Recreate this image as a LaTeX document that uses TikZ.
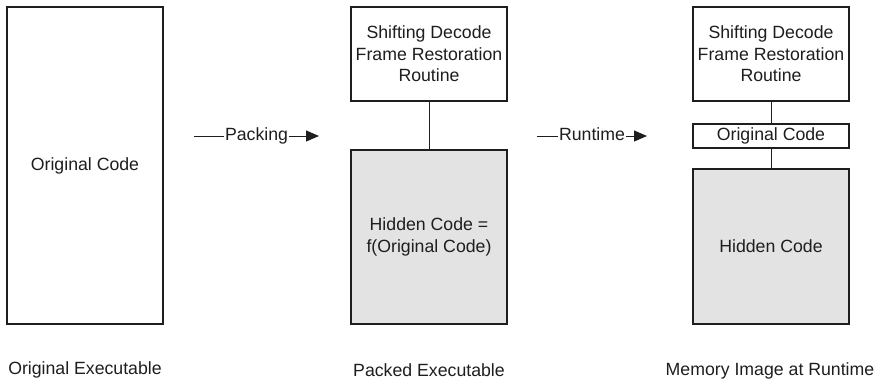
\documentclass[tikz,border=0pt]{standalone}
\usepackage{fontspec}
\setmainfont{Liberation Sans}
\usepackage{xcolor}
\usepackage{tikz}
\usetikzlibrary{shapes, arrows.meta, positioning}

\definecolor{hiddengray}{RGB}{227,227,227}
\definecolor{inkgray}{RGB}{30,30,30}

\begin{document}
\begin{tikzpicture}
  [
    x=1pt, y=-1pt,
    every node/.style={font=\fontsize{17.7pt}{21.5pt}\selectfont, text=inkgray},
    Plain/.style={rectangle, draw=inkgray, fill=white, line width=1.1pt, minimum width=156pt, align=center, inner sep=0pt},
    Hidden/.style={rectangle, draw=inkgray, fill=hiddengray, line width=1.1pt, minimum width=156pt, align=center, inner sep=0pt},
    Caption/.style={inner sep=0pt, anchor=mid},
    Word/.style={inner sep=1pt, text height=9.2pt, text depth=0pt}
  ]
  \useasboundingbox (0,0) rectangle (883,386);

  % Nodes
  \node[Plain, minimum height=317pt] (orig) at(85, 165.5) {Original Code};

  \node[Plain, minimum height=94pt] (stub1) at(429, 54) {Shifting Decode\\Frame Restoration\\Routine};
  \node[Hidden, minimum height=174pt] (hide1) at(429, 237) {Hidden Code =\\f(Original Code)};

  \node[Plain, minimum height=94pt] (stub2) at(771, 54) {Shifting Decode\\Frame Restoration\\Routine};
  \node[Plain, minimum height=24pt] (code2) at(771, 136) {Original Code};
  \node[Hidden, minimum height=155pt] (hide2) at(771, 246.5) {Hidden Code};

  \node[Caption] (cap1) at(85, 372) {Original Executable};
  \node[Caption] (cap2) at(429, 374) {Packed Executable};
  \node[Caption] (cap3) at(770, 373) {Memory Image at Runtime};

  \node[Word] (pack) at(256.5, 136) {Packing};
  \node[Word] (run) at(592, 136) {Runtime};
  \coordinate (packin) at(194, 136);
  \coordinate (packout) at(319, 136);
  \coordinate (runin) at(537, 136);
  \coordinate (runout) at(647, 136);

  % Lines
  \path [draw=inkgray, line width=1pt] (stub1) -- (hide1);
  \path [draw=inkgray, line width=1pt] (stub2) -- (code2);
  \path [draw=inkgray, line width=1pt] (code2) -- (hide2);

  \path [draw=inkgray, line width=1pt] (packin) -- (pack.west);
  \path [-{Triangle[length=13pt, width=11pt]}, draw=inkgray, fill=inkgray, line width=1pt] (pack.east) -- (packout);
  \path [draw=inkgray, line width=1pt] (runin) -- (run.west);
  \path [-{Triangle[length=13pt, width=11pt]}, draw=inkgray, fill=inkgray, line width=1pt] (run.east) -- (runout);

\end{tikzpicture}
\end{document}
